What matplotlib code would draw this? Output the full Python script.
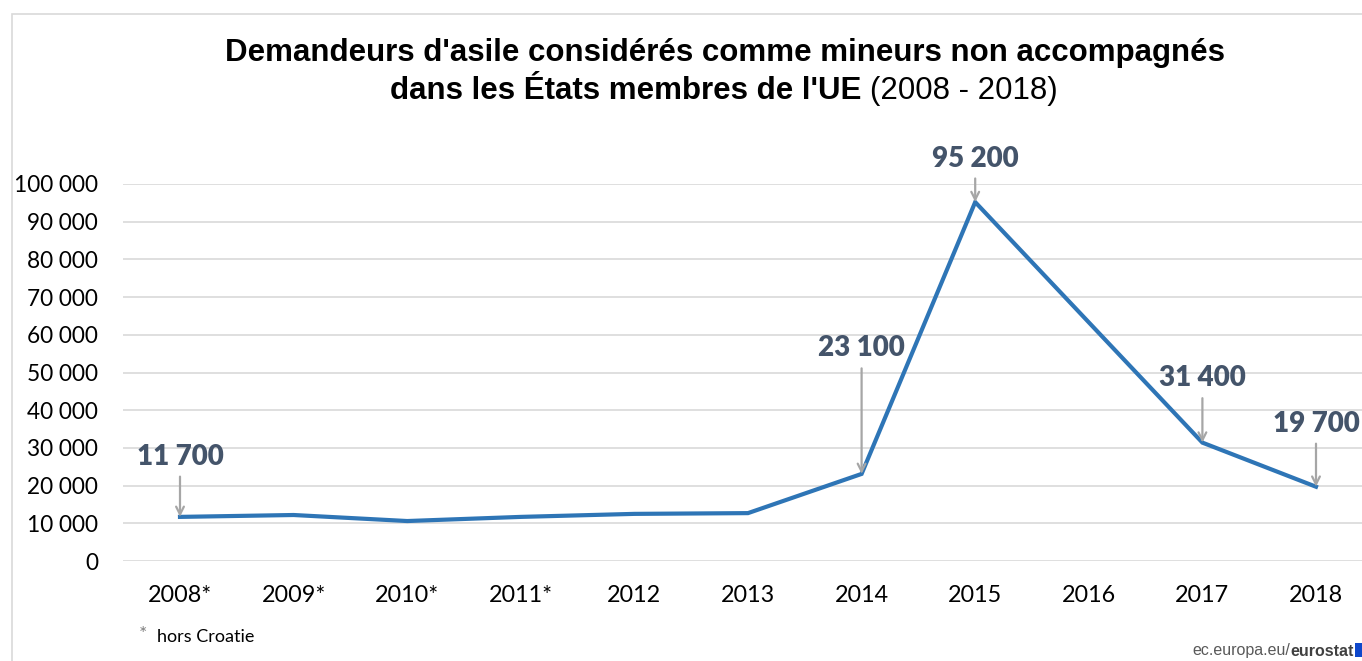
import matplotlib
matplotlib.use('Agg')
import matplotlib.pyplot as plt
from matplotlib.patches import Rectangle

# donnees
years = ['2008*', '2009*', '2010*', '2011*', '2012', '2013', '2014', '2015', '2016', '2017', '2018']
values = [11700, 12200, 10600, 11700, 12500, 12700, 23100, 95200, 63300, 31400, 19700]
yticks = [0, 10000, 20000, 30000, 40000, 50000, 60000, 70000, 80000, 90000, 100000]
ytick_labels = ['0', '10 000', '20 000', '30 000', '40 000', '50 000', '60 000', '70 000', '80 000', '90 000', '100 000']

# points annotes (index, texte, decalage en points)
label_idx = [0, 6, 7, 9, 10]
label_txt = ['11 700', '23 100', '95 200', '31 400', '19 700']
label_off = [34, 81, 22, 37, 36]

line_col = '#2E75B6'
arrow_col = '#A6A6A6'
label_col = '#44546A'
grid_col = '#D9D9D9'
tick_font = 'Lato'

fig = plt.figure(figsize=(13.62, 6.61), dpi=100)
fig.patches.append(Rectangle((12 / 1362, -0.1), 1.2, 1 - 14 / 661 + 0.1, transform=fig.transFigure,
                             fill=False, edgecolor='#D9D9D9', linewidth=1.2, zorder=0))

ax = fig.add_axes([123.2 / 1362, 100 / 661, 1249.6 / 1362, 377 / 661])
x = list(range(len(years)))
ax.plot(x, values, color=line_col, linewidth=3.0, solid_joinstyle='miter', zorder=3)

ax.set_xlim(-0.5, 10.5)
ax.set_ylim(0, 100000)
ax.set_yticks(yticks)
ax.set_yticklabels(ytick_labels, fontfamily=tick_font, fontsize=16.3, color='#000000')
ax.set_xticks(x)
ax.set_xticklabels(years, fontfamily=tick_font, fontsize=16.8, color='#000000')
ax.tick_params(axis='y', length=0, pad=18)
ax.tick_params(axis='x', length=0, pad=17.5)
ax.grid(axis='y', color=grid_col, linewidth=1.2)
ax.set_axisbelow(True)
for s in ax.spines.values():
    s.set_visible(False)

for i, t, off in zip(label_idx, label_txt, label_off):
    ax.annotate(t, xy=(i, values[i]), xytext=(0, off), textcoords='offset points',
                ha='center', va='bottom', fontfamily=tick_font, fontweight='heavy',
                fontsize=20, color=label_col, zorder=4,
                arrowprops=dict(arrowstyle='->', color=arrow_col, lw=1.6,
                                shrinkA=3, shrinkB=0, mutation_scale=14))

# titre
fig.text(725 / 1362, 1 - 53 / 661, "Demandeurs d'asile considérés comme mineurs non accompagnés",
         ha='center', va='center', fontfamily='Liberation Sans', fontweight='bold', fontsize=22.5)
t1 = fig.text(0, 1 - 91 / 661, "dans les États membres de l'UE ", ha='left', va='center',
              fontfamily='Liberation Sans', fontweight='bold', fontsize=22.5)
t2 = fig.text(0, 1 - 91 / 661, "(2008 - 2018)", ha='left', va='center',
              fontfamily='Liberation Sans', fontsize=22.5)
fig.canvas.draw()
r = fig.canvas.get_renderer()
w1 = t1.get_window_extent(r).width
w2 = t2.get_window_extent(r).width
x0 = 724 - (w1 + w2) / 2
t1.set_x(x0 / 1362)
t2.set_x((x0 + w1) / 1362)

# note de bas de page
fig.text(139 / 1362, 1 - 634 / 661, '*', fontfamily=tick_font, fontsize=14, color='#7F7F7F',
         ha='left', va='center')
fig.text(157 / 1362, 1 - 637 / 661, 'hors Croatie', fontfamily=tick_font, fontsize=13,
         color='#000000', ha='left', va='center')

# source
s1 = fig.text(0, 1 - 651 / 661, 'ec.europa.eu/', fontfamily='Liberation Sans', fontsize=11.5,
              color='#595959', ha='left', va='center')
s2 = fig.text(0, 1 - 651 / 661, 'eurostat', fontfamily='Liberation Sans', fontsize=11.5,
              fontweight='bold', color='#404040', ha='left', va='center')
fig.canvas.draw()
ws1 = s1.get_window_extent(r).width
ws2 = s2.get_window_extent(r).width
xe = 1354 - ws2
s2.set_x(xe / 1362)
s1.set_x((xe - ws1) / 1362)
fig.patches.append(Rectangle((1355 / 1362, 4 / 661), 8 / 1362, 14 / 661, transform=fig.transFigure,
                             facecolor='#0E47CB', edgecolor='none'))

fig.savefig('out.png', dpi=100)
